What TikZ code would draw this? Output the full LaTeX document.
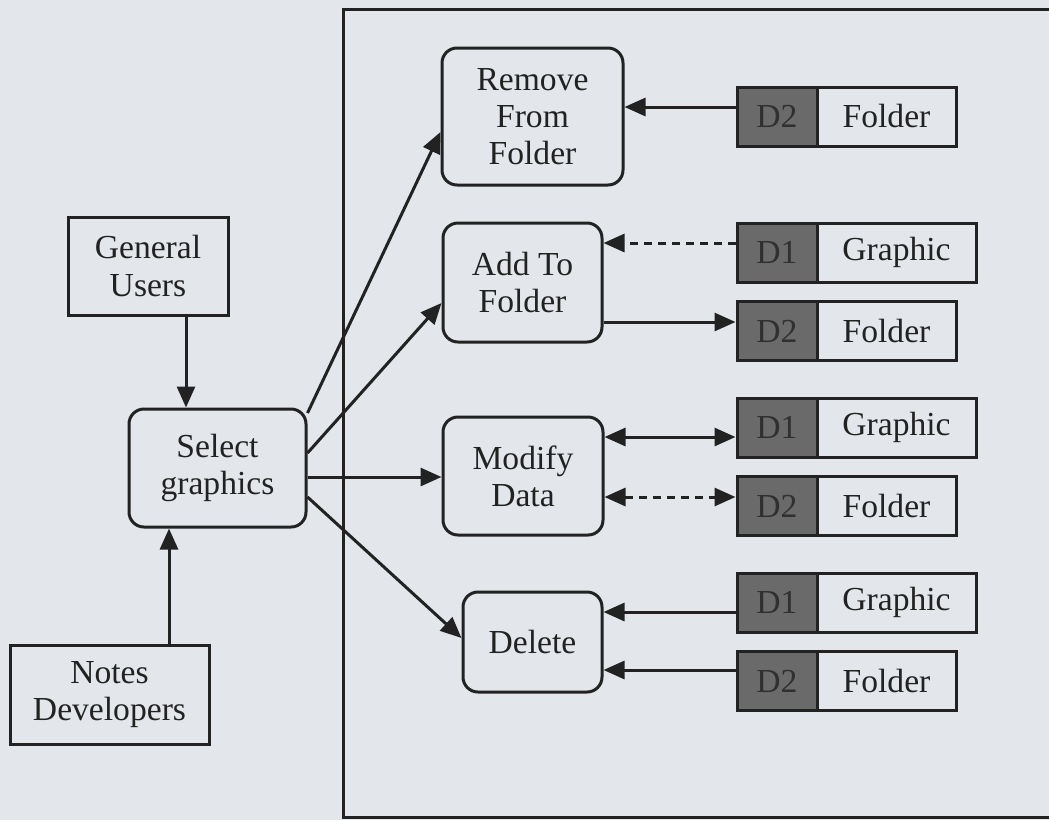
\documentclass[tikz,border=0pt]{standalone}
\usepackage{fontspec}
\setmainfont{Liberation Serif}
\usetikzlibrary{arrows.meta}
\definecolor{paper}{HTML}{E3E6EA}
\definecolor{ink}{HTML}{222222}
\definecolor{storefill}{HTML}{6A6A6A}
\definecolor{storeink}{HTML}{303030}
\tikzset{
  lbl/.style={font=\fontsize{16.8}{18.6}\selectfont, text=ink, align=center, inner sep=0pt},
  actor/.style={lbl, draw=ink, line width=1.5pt},
  proc/.style={lbl, draw=ink, line width=1.5pt, rounded corners=7.5pt},
  dstore/.style={lbl, draw=ink, line width=1.5pt, fill=storefill, text=storeink,
                 minimum width=40pt, minimum height=29.5pt},
  dname/.style={lbl, draw=ink, line width=1.5pt, minimum height=29.5pt},
  flow/.style={draw=ink, line width=1.5pt, -{Triangle[length=10.5pt,width=9pt]}},
  biflow/.style={draw=ink, line width=1.5pt, {Triangle[length=10.5pt,width=9pt]}-{Triangle[length=10.5pt,width=9pt]}},
  dashflow/.style={dash pattern=on 4pt off 3pt}
}
\begin{document}
\begin{tikzpicture}[x=0.5pt,y=-0.5pt]
  \useasboundingbox[fill=paper] (0,0) rectangle (1049,820);

  % system boundary, open to the right
  \draw[ink, line width=1.5pt] (1055,9) -- (343,9) -- (343,817) -- (1055,817);

  % external entities and the entry process
  \node[actor, minimum width=80pt, minimum height=49pt] (users) at (148,266) {General\\Users};
  \node[actor, minimum width=99.5pt, minimum height=49.5pt] (devs) at (109.5,694.5) {Notes\\Developers};
  \node[proc, minimum width=88.5pt, minimum height=59pt] (select) at (217.5,468) {Select\\graphics};

  % processes
  \node[proc, minimum width=90.5pt, minimum height=68.5pt] (remove) at (532.5,116.5) {Remove\\From\\Folder};
  \node[proc, minimum width=79.5pt, minimum height=59.5pt] (add) at (522.5,282.5) {Add To\\Folder};
  \node[proc, minimum width=80pt, minimum height=59pt] (modify) at (523,476) {Modify\\Data};
  \node[proc, minimum width=69.5pt, minimum height=50pt] (delete) at (532.5,642) {Delete};

  % data stores
  \node[dstore] (r1d) at (777,116.5) {D2};
  \node[dname, minimum width=69.5pt] (r1n) at (886.5,116.5) {Folder};
  \node[dstore] (a1d) at (777,252.5) {D1};
  \node[dname, minimum width=79.5pt] (a1n) at (896.5,252.5) {Graphic};
  \node[dstore] (a2d) at (777,331) {D2};
  \node[dname, minimum width=69.5pt] (a2n) at (886.5,331) {Folder};
  \node[dstore] (m1d) at (777,427.5) {D1};
  \node[dname, minimum width=79.5pt] (m1n) at (896.5,427.5) {Graphic};
  \node[dstore] (m2d) at (777,506) {D2};
  \node[dname, minimum width=69.5pt] (m2n) at (886.5,506) {Folder};
  \node[dstore] (x1d) at (777,602.5) {D1};
  \node[dname, minimum width=79.5pt] (x1n) at (896.5,602.5) {Graphic};
  \node[dstore] (x2d) at (777,681) {D2};
  \node[dname, minimum width=69.5pt] (x2n) at (886.5,681) {Folder};

  % entities into the selection step
  \draw[flow] (users.south -| 186,0) -- (select.north -| 186,0);
  \draw[flow] (devs.north -| 169,0) -- (select.south -| 169,0);

  % selection fans out to the processes
  \draw[flow] (select.east |- 0,413) -- (remove.west |- 0,132);
  \draw[flow] (select.east |- 0,453) -- (add.west |- 0,303);
  \draw[flow] (select.east |- 0,477) -- (modify.west |- 0,477);
  \draw[flow] (select.east |- 0,497) -- (delete.west |- 0,638);

  % data flows between processes and stores
  \draw[flow] (r1d.west |- 0,107) -- (remove.east |- 0,107);
  \draw[flow, dashflow] (a1d.west |- 0,243) -- (add.east |- 0,243);
  \draw[flow] (add.east |- 0,322) -- (a2d.west |- 0,322);
  \draw[biflow] (modify.east |- 0,437) -- (m1d.west |- 0,437);
  \draw[biflow, dashflow] (modify.east |- 0,497) -- (m2d.west |- 0,497);
  \draw[flow] (x1d.west |- 0,612) -- (delete.east |- 0,612);
  \draw[flow] (x2d.west |- 0,670) -- (delete.east |- 0,670);
\end{tikzpicture}
\end{document}
